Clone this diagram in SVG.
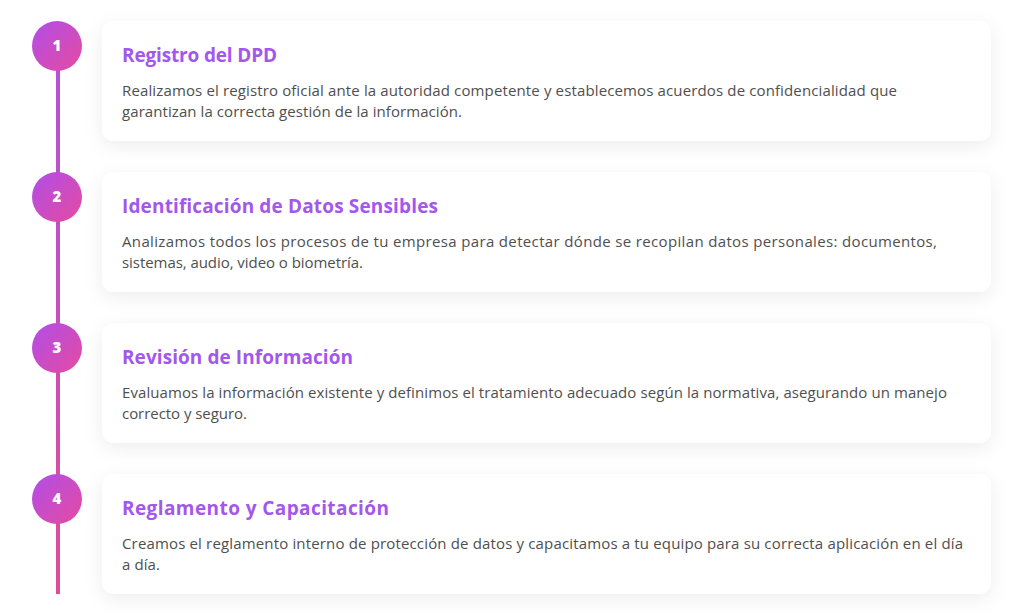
<svg xmlns="http://www.w3.org/2000/svg" width="1025" height="614" viewBox="0 0 1025 614">
<defs>
<linearGradient id="circ" x1="0" y1="0" x2="1" y2="1">
<stop offset="0" stop-color="#b04ee8"/>
<stop offset="1" stop-color="#e64aa0"/>
</linearGradient>
<linearGradient id="line" gradientUnits="userSpaceOnUse" x1="0" y1="46" x2="0" y2="594">
<stop offset="0" stop-color="#b352d8"/>
<stop offset="1" stop-color="#de4c98"/>
</linearGradient>
<filter id="sh" x="-10%" y="-30%" width="120%" height="170%">
<feDropShadow dx="0" dy="5" stdDeviation="9" flood-color="#000" flood-opacity="0.07"/>
</filter>
<style>
.card{fill:#fff;filter:url(#sh)}
.num{font-family:"Open Sans",sans-serif;font-weight:800;font-size:15px;fill:#fff;text-anchor:middle}
.title{font-family:"Open Sans",sans-serif;font-weight:700;font-size:19px;fill:#a357ec}
.body{font-family:"Open Sans",sans-serif;font-size:15px;fill:#4f4f4f}
</style>
</defs>
<rect width="1025" height="614" fill="#fff"/>
<g id="connectors">
<rect x="56" y="60" width="4" height="534" fill="url(#line)"/>
</g>
<g id="step1">
<rect class="card" x="102" y="21" width="889" height="120" rx="12"/>
<circle cx="57" cy="46" r="25" fill="url(#circ)"/>
<text class="num" x="57" y="51">1</text>
<text class="title" x="122" y="62" textLength="155">Registro del DPD</text>
<text class="body" x="122" y="96" textLength="775">Realizamos el registro oficial ante la autoridad competente y establecemos acuerdos de confidencialidad que</text>
<text class="body" x="122" y="117" textLength="340">garantizan la correcta gestión de la información.</text>
</g>
<g id="step2">
<rect class="card" x="102" y="172" width="889" height="120" rx="12"/>
<circle cx="57" cy="197" r="25" fill="url(#circ)"/>
<text class="num" x="57" y="202">2</text>
<text class="title" x="122" y="213" textLength="316">Identificación de Datos Sensibles</text>
<text class="body" x="122" y="247" textLength="815">Analizamos todos los procesos de tu empresa para detectar dónde se recopilan datos personales: documentos,</text>
<text class="body" x="122" y="268" textLength="241">sistemas, audio, video o biometría.</text>
</g>
<g id="step3">
<rect class="card" x="102" y="323" width="889" height="120" rx="12"/>
<circle cx="57" cy="348" r="25" fill="url(#circ)"/>
<text class="num" x="57" y="353">3</text>
<text class="title" x="122" y="364" textLength="231">Revisión de Información</text>
<text class="body" x="122" y="398" textLength="825">Evaluamos la información existente y definimos el tratamiento adecuado según la normativa, asegurando un manejo</text>
<text class="body" x="122" y="419" textLength="125">correcto y seguro.</text>
</g>
<g id="step4">
<rect class="card" x="102" y="474" width="889" height="120" rx="12"/>
<circle cx="57" cy="499" r="25" fill="url(#circ)"/>
<text class="num" x="57" y="504">4</text>
<text class="title" x="122" y="515" textLength="267">Reglamento y Capacitación</text>
<text class="body" x="122" y="549" textLength="841">Creamos el reglamento interno de protección de datos y capacitamos a tu equipo para su correcta aplicación en el día</text>
<text class="body" x="122" y="570" textLength="38">a día.</text>
</g>
</svg>
